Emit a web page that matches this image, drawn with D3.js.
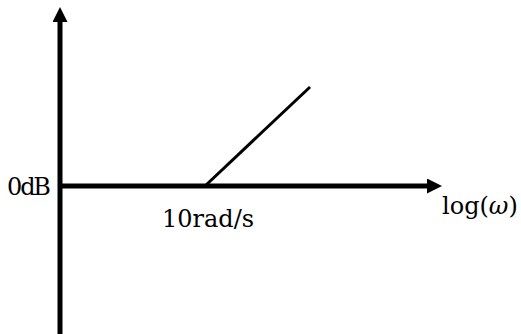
<!DOCTYPE html>
<html>
<head>
<meta charset="utf-8">
<script src="https://cdn.jsdelivr.net/npm/d3@7"></script>
<style>
  html, body { margin: 0; padding: 0; background: #fff; }
  svg { display: block; }
  text { font-family: "DejaVu Serif", serif; font-size: 24px; fill: #000; }
</style>
</head>
<body>
<svg id="chart"></svg>
<script>
/* CONSTANTS AND GLOBALS */
const width = 521,
  height = 334;

// asymptote of the magnitude plot (rad/s -> dB)
const omega = [10, 100];
const gainDb = [0, 20];

// labels
const zeroLabel = "0dB";
const breakLabel = "10rad/s";
const axisLabel = ["log(", "\u03c9", ")"];

const svg = d3.select("#chart")
  .attr("width", width)
  .attr("height", height);

// log scale for frequency, linear for gain
const x = d3.scaleLog()
  .domain([10, 100])
  .range([205, 310]);

const y = d3.scaleLinear()
  .domain([0, 20])
  .range([186, 87]);

const axisX = 60;

// arrow heads
const defs = svg.append("defs");
defs.append("marker")
  .attr("id", "arrow")
  .attr("viewBox", "0 0 15 15")
  .attr("refX", 0)
  .attr("refY", 7.5)
  .attr("markerWidth", 15)
  .attr("markerHeight", 15)
  .attr("markerUnits", "userSpaceOnUse")
  .attr("orient", "auto")
  .append("path")
    .attr("d", "M0,0 L15,7.5 L0,15 Z")
    .attr("fill", "#000");

// vertical axis (gain)
svg.append("line")
  .attr("x1", axisX)
  .attr("y1", height)
  .attr("x2", axisX)
  .attr("y2", 22)
  .attr("stroke", "#000")
  .attr("stroke-width", 5)
  .attr("marker-end", "url(#arrow)");

// horizontal axis (0 dB line)
svg.append("line")
  .attr("x1", axisX)
  .attr("y1", y(0))
  .attr("x2", 427)
  .attr("y2", y(0))
  .attr("stroke", "#000")
  .attr("stroke-width", 5)
  .attr("marker-end", "url(#arrow)");

// +20 dB/dec asymptote starting at the break frequency
const line = d3.line()
  .x((d, i) => x(omega[i]))
  .y(d => y(d));

svg.append("path")
  .datum(gainDb)
  .attr("d", line)
  .attr("fill", "none")
  .attr("stroke", "#000")
  .attr("stroke-width", 3);

// text labels
svg.append("text")
  .attr("x", 51)
  .attr("y", y(0) + 9)
  .attr("text-anchor", "end")
  .attr("textLength", 44)
  .text(zeroLabel);

svg.append("text")
  .attr("x", 162)
  .attr("y", 227)
  .text(breakLabel);

const logText = svg.append("text")
  .attr("x", 442)
  .attr("y", 214);
logText.append("tspan").text(axisLabel[0]);
logText.append("tspan").attr("font-style", "italic").text(axisLabel[1]);
logText.append("tspan").text(axisLabel[2]);
</script>
</body>
</html>
